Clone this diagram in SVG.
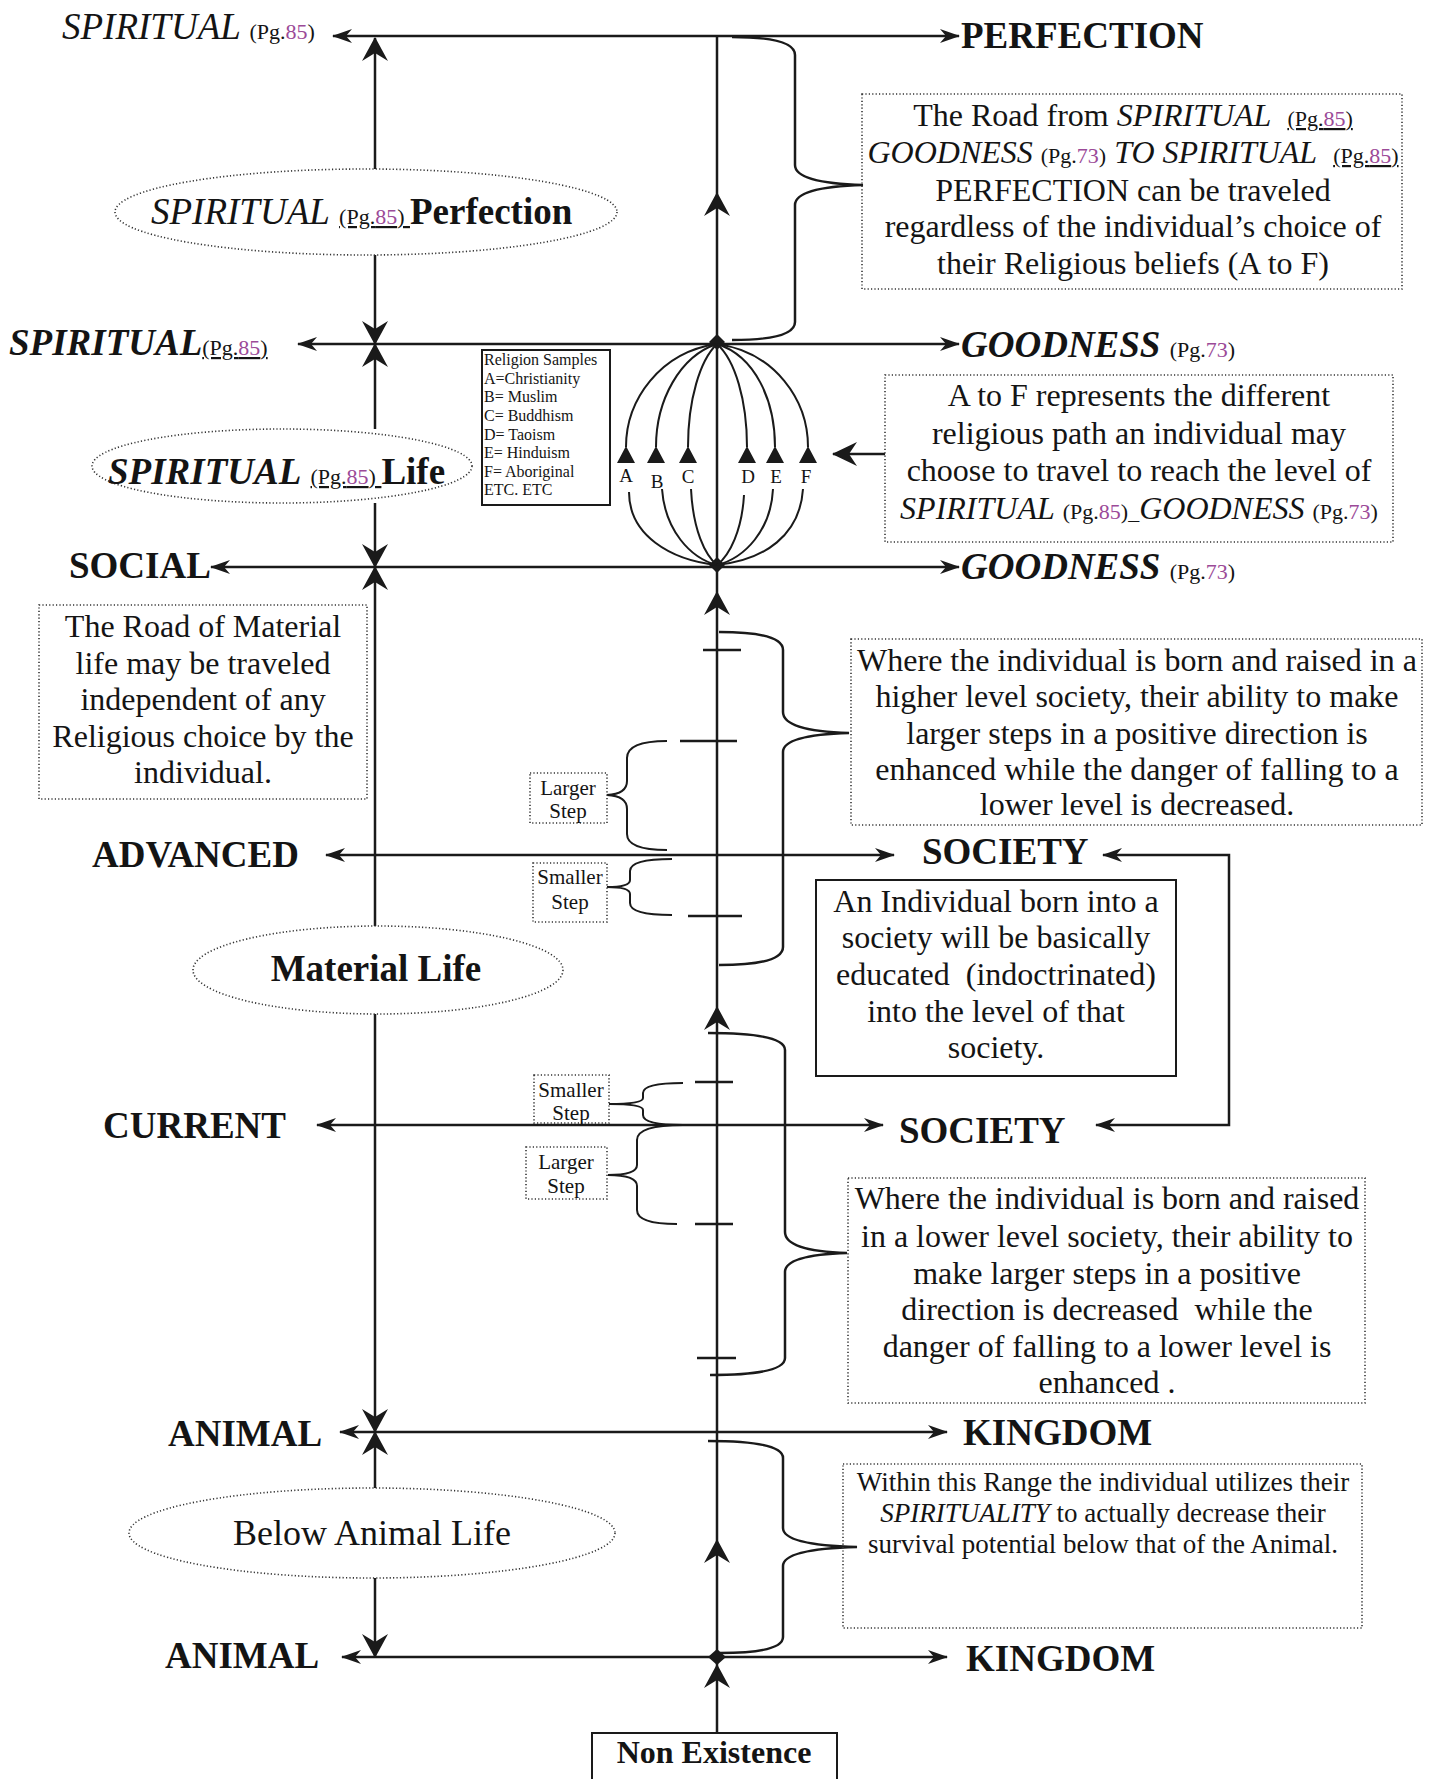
<svg xmlns="http://www.w3.org/2000/svg" width="1439" height="1779" viewBox="0 0 1439 1779">
<style>
.t{font-family:"Liberation Serif","Times New Roman",serif;fill:#141414}
.b{font-weight:bold}
.i{font-style:italic}
.lab{font-size:37px;font-weight:bold}
.box{font-size:32px;text-anchor:middle}
.sm{font-size:27px;text-anchor:middle}
.step{font-size:21px;text-anchor:middle}
.rel{font-size:16px}
.pg{font-size:22px;font-style:normal;font-weight:normal}
.pu{fill:#9b4a98}
.u{text-decoration:underline}
.ln{stroke:#1a1a1a;stroke-width:2.5;fill:none}
.cv{stroke:#1a1a1a;stroke-width:2;fill:none}
.dot{fill:none;stroke:#333;stroke-width:1.6;stroke-dasharray:1.2 2.2}
.solid{fill:none;stroke:#1a1a1a;stroke-width:2}
.fillk{fill:#1a1a1a}
</style>
<defs>
<marker id="ah" viewBox="0 0 20 14" refX="19" refY="7" markerWidth="20" markerHeight="14" markerUnits="userSpaceOnUse" orient="auto-start-reverse"><path d="M0,0 L20,7 L0,14 L6,7 Z" fill="#1a1a1a"/></marker>
<marker id="av" viewBox="0 0 24 26" refX="23" refY="13" markerWidth="24" markerHeight="26" markerUnits="userSpaceOnUse" orient="auto-start-reverse"><path d="M0,0 L24,13 L0,26 L8,13 Z" fill="#1a1a1a"/></marker>
<marker id="ab" viewBox="0 0 25 24" refX="24" refY="12" markerWidth="25" markerHeight="24" markerUnits="userSpaceOnUse" orient="auto-start-reverse"><path d="M0,0 L25,12 L0,24 L8,12 Z" fill="#1a1a1a"/></marker>
</defs>
<rect x="0" y="0" width="1439" height="1779" fill="#ffffff"/>

<g id="connectors">
  <!-- horizontal level lines -->
  <path class="ln" d="M333,36 L959,36" marker-start="url(#ah)" marker-end="url(#ah)"/>
  <path class="ln" d="M298,344 L959,344" marker-start="url(#ah)" marker-end="url(#ah)"/>
  <path class="ln" d="M211,567 L959,567" marker-start="url(#ah)" marker-end="url(#ah)"/>
  <path class="ln" d="M326,855 L894,855" marker-start="url(#ah)" marker-end="url(#ah)"/>
  <path class="ln" d="M317,1125 L883,1125" marker-start="url(#ah)" marker-end="url(#ah)"/>
  <path class="ln" d="M340,1432 L947,1432" marker-start="url(#ah)" marker-end="url(#ah)"/>
  <path class="ln" d="M342,1657 L947,1657" marker-start="url(#ah)" marker-end="url(#ah)"/>
  <!-- society bracket connector -->
  <path class="ln" d="M1103,855 L1229,855 L1229,1125 L1096,1125" marker-start="url(#ah)" marker-end="url(#ah)"/>
  <!-- left vertical line -->
  <path class="ln" d="M375,169 L375,38" marker-end="url(#av)"/>
  <path class="ln" d="M375,255 L375,344" marker-end="url(#av)"/>
  <path class="ln" d="M375,429 L375,344" marker-end="url(#av)"/>
  <path class="ln" d="M375,503 L375,567" marker-end="url(#av)"/>
  <path class="ln" d="M375,926 L375,567" marker-end="url(#av)"/>
  <path class="ln" d="M375,1014 L375,1432" marker-end="url(#av)"/>
  <path class="ln" d="M375,1488 L375,1432" marker-end="url(#av)"/>
  <path class="ln" d="M375,1578 L375,1657" marker-end="url(#av)"/>
  <!-- central line -->
  <path class="ln" d="M717,1733 L717,1665" marker-end="url(#av)"/>
  <path class="ln" d="M717,1665 L717,1540" marker-end="url(#av)"/>
  <path class="ln" d="M717,1540 L717,1007" marker-end="url(#av)"/>
  <path class="ln" d="M717,1007 L717,592" marker-end="url(#av)"/>
  <path class="ln" d="M717,592 L717,193" marker-end="url(#av)"/>
  <path class="ln" d="M717,193 L717,36"/>
  <!-- junction dots -->
  <path class="fillk" d="M717,334 L725,342 L717,350 L709,342 Z"/>
  <path class="fillk" d="M717,557 L725,565 L717,573 L709,565 Z"/>
  <path class="fillk" d="M717,1649 L726,1657 L717,1665 L708,1657 Z"/>
  <!-- large braces -->
  <path class="ln" d="M732,37 Q795,37 795,55 L795,165 Q795,183 863,185 Q795,187 795,205 L795,322 Q795,340 732,340"/>
  <path class="ln" d="M719,632 Q783,632 783,650 L783,712 Q783,731 849,733 Q783,735 783,752 L783,947 Q783,965 719,965"/>
  <path class="ln" d="M708,1033 Q785,1033 785,1050 L785,1232 Q785,1251 847,1253 Q785,1255 785,1272 L785,1358 Q785,1375 710,1375"/>
  <path class="ln" d="M708,1441 Q783,1441 783,1458 L783,1528 Q783,1545 857,1547 Q783,1549 783,1566 L783,1637 Q783,1653 720,1653"/>
  <!-- small step braces -->
  <path class="cv" d="M667,741 Q627,741 627,758 L627,781 Q627,794 607,795 Q627,796 627,809 L627,834 Q627,850 667,850"/>
  <path class="cv" d="M672,859 Q630,859 630,871 L630,880 Q630,887 607,887 Q630,887 630,894 L630,903 Q630,915 672,915"/>
  <path class="cv" d="M683,1083 Q643,1083 643,1093 L643,1098 Q643,1104 609,1104 Q643,1104 643,1110 L643,1115 Q643,1125 683,1125"/>
  <path class="cv" d="M683,1125 Q637,1125 637,1140 L637,1165 Q637,1175 608,1175 Q637,1175 637,1186 L637,1210 Q637,1224 677,1224"/>
  <!-- step ticks -->
  <path class="ln" d="M703,650 L741,650 M680,741 L737,741 M688,916 L742,916 M695,1082 L733,1082 M695,1224 L733,1224 M697,1358 L736,1358"/>
  <!-- religious paths A-F -->
  <path class="cv" d="M717,344 C660,352 626,400 626,447"/>
  <path class="cv" d="M717,344 C680,356 656,400 656,447"/>
  <path class="cv" d="M717,344 C700,360 688,400 688,447"/>
  <path class="cv" d="M717,344 C735,360 747,400 747,447"/>
  <path class="cv" d="M717,344 C755,356 775,400 775,447"/>
  <path class="cv" d="M717,344 C775,352 808,400 808,447"/>
  <path class="cv" d="M629,492 C629,535 670,560 717,565"/>
  <path class="cv" d="M662,489 C665,530 690,558 717,565"/>
  <path class="cv" d="M691,489 C693,530 705,555 717,565"/>
  <path class="cv" d="M744,495 C742,530 730,555 717,565"/>
  <path class="cv" d="M773,489 C771,530 745,558 717,565"/>
  <path class="cv" d="M803,489 C800,535 765,560 717,565"/>
  <path class="fillk" d="M626,446 L635,463 L617,463 Z M656,446 L665,463 L647,463 Z M688,446 L697,463 L679,463 Z M747,446 L756,463 L738,463 Z M775,446 L784,463 L766,463 Z M808,446 L817,463 L799,463 Z"/>
  <path class="ln" d="M885,454 L833,454" marker-end="url(#ab)"/>
</g>

<g id="lbl-spiritual-top"><text class="t i" x="62" y="39" font-size="37">SPIRITUAL <tspan class="pg">(Pg.<tspan class="pu">85</tspan>)</tspan></text></g>
<g id="lbl-perfection"><text class="t lab" x="961" y="48">PERFECTION</text></g>
<g id="lbl-spiritual-mid"><text class="t lab i" x="9" y="355">SPIRITUAL<tspan class="pg u">(Pg.<tspan class="pu">85</tspan>)</tspan></text></g>
<g id="lbl-goodness-1"><text class="t lab i" x="961" y="357">GOODNESS <tspan class="pg" font-size="21">(Pg.<tspan class="pu">73</tspan>)</tspan></text></g>
<g id="lbl-social"><text class="t lab" x="69" y="578">SOCIAL</text></g>
<g id="lbl-goodness-2"><text class="t lab i" x="961" y="579">GOODNESS <tspan class="pg" font-size="21">(Pg.<tspan class="pu">73</tspan>)</tspan></text></g>
<g id="lbl-advanced"><text class="t lab" x="92" y="867">ADVANCED</text></g>
<g id="lbl-society-1"><text class="t lab" x="922" y="864">SOCIETY</text></g>
<g id="lbl-current"><text class="t lab" x="103" y="1138">CURRENT</text></g>
<g id="lbl-society-2"><text class="t lab" x="899" y="1143">SOCIETY</text></g>
<g id="lbl-animal-1"><text class="t lab" x="168" y="1446">ANIMAL</text></g>
<g id="lbl-kingdom-1"><text class="t lab" x="963" y="1445">KINGDOM</text></g>
<g id="lbl-animal-2"><text class="t lab" x="165" y="1668">ANIMAL</text></g>
<g id="lbl-kingdom-2"><text class="t lab" x="966" y="1671">KINGDOM</text></g>

<g id="ell-perfection">
  <ellipse class="dot" cx="366" cy="212" rx="251" ry="43"/>
  <text class="t" x="151" y="224" font-size="37"><tspan class="i">SPIRITUAL</tspan> <tspan class="pg u" font-size="24">(Pg.<tspan class="pu">85</tspan>) </tspan><tspan class="b">Perfection</tspan></text>
</g>
<g id="ell-spiritual-life">
  <ellipse class="dot" cx="282" cy="466" rx="190" ry="37"/>
  <text class="t" x="108" y="484" font-size="37"><tspan class="b i">SPIRITUAL</tspan> <tspan class="pg u">(Pg.<tspan class="pu">85</tspan>) </tspan><tspan class="b">Life</tspan></text>
</g>
<g id="ell-material-life">
  <ellipse class="dot" cx="378" cy="970" rx="185" ry="44"/>
  <text class="t b" x="376" y="981" font-size="37" text-anchor="middle">Material Life</text>
</g>
<g id="ell-below-animal">
  <ellipse class="dot" cx="372" cy="1533" rx="243" ry="45"/>
  <text class="t" x="372" y="1545" font-size="36" text-anchor="middle">Below Animal Life</text>
</g>

<g id="box-road-spiritual">
  <rect class="dot" x="862" y="94" width="540" height="195"/>
  <text class="t box" x="1133" y="126" xml:space="preserve">The Road from <tspan class="i">SPIRITUAL</tspan>  <tspan class="pg u">(Pg.<tspan class="pu">85</tspan>)</tspan></text>
  <text class="t box" x="1133" y="163" xml:space="preserve"><tspan class="i">GOODNESS</tspan> <tspan class="pg">(Pg.<tspan class="pu">73</tspan>)</tspan> <tspan class="i">TO SPIRITUAL</tspan>  <tspan class="pg u">(Pg.<tspan class="pu">85</tspan>)</tspan></text>
  <text class="t box" x="1133" y="201">PERFECTION can be traveled</text>
  <text class="t box" x="1133" y="237">regardless of the individual’s choice of</text>
  <text class="t box" x="1133" y="274">their Religious beliefs (A to F)</text>
</g>

<g id="box-religion-samples">
  <rect class="solid" x="482" y="350" width="128" height="155"/>
  <text class="t rel" x="484" y="365">Religion Samples</text>
  <text class="t rel" x="484" y="383.5">A=Christianity</text>
  <text class="t rel" x="484" y="402">B= Muslim</text>
  <text class="t rel" x="484" y="421">C= Buddhism</text>
  <text class="t rel" x="484" y="439.5">D= Taoism</text>
  <text class="t rel" x="484" y="458">E= Hinduism</text>
  <text class="t rel" x="484" y="476.5">F= Aboriginal</text>
  <text class="t rel" x="484" y="495">ETC. ETC</text>
</g>

<g id="path-letters" font-size="19" text-anchor="middle">
  <text class="t" x="626" y="482">A</text>
  <text class="t" x="657" y="488">B</text>
  <text class="t" x="688" y="483">C</text>
  <text class="t" x="748" y="483">D</text>
  <text class="t" x="776" y="483">E</text>
  <text class="t" x="806" y="483">F</text>
</g>

<g id="box-a-to-f">
  <rect class="dot" x="885" y="375" width="508" height="167"/>
  <text class="t box" x="1139" y="406">A to F represents the different</text>
  <text class="t box" x="1139" y="444">religious path an individual may</text>
  <text class="t box" x="1139" y="481">choose to travel to reach the level of</text>
  <text class="t box" x="1139" y="519"><tspan class="i">SPIRITUAL</tspan> <tspan class="pg">(Pg.<tspan class="pu">85</tspan>)</tspan><tspan class="pg">_</tspan><tspan class="i">GOODNESS</tspan> <tspan class="pg">(Pg.<tspan class="pu">73</tspan>)</tspan></text>
</g>

<g id="box-road-material">
  <rect class="dot" x="39" y="605" width="328" height="194"/>
  <text class="t box" x="203" y="637">The Road of Material</text>
  <text class="t box" x="203" y="674">life may be traveled</text>
  <text class="t box" x="203" y="710">independent of any</text>
  <text class="t box" x="203" y="747">Religious choice by the</text>
  <text class="t box" x="203" y="783">individual.</text>
</g>

<g id="box-higher-society">
  <rect class="dot" x="851" y="639" width="571" height="186"/>
  <text class="t box" x="1137" y="671">Where the individual is born and raised in a</text>
  <text class="t box" x="1137" y="707">higher level society, their ability to make</text>
  <text class="t box" x="1137" y="744">larger steps in a positive direction is</text>
  <text class="t box" x="1137" y="780">enhanced while the danger of falling to a</text>
  <text class="t box" x="1137" y="815">lower level is decreased.</text>
</g>

<g id="box-individual-born">
  <rect class="solid" x="816" y="880" width="360" height="196"/>
  <text class="t box" x="996" y="912">An Individual born into a</text>
  <text class="t box" x="996" y="948">society will be basically</text>
  <text class="t box" x="996" y="985" xml:space="preserve">educated  (indoctrinated)</text>
  <text class="t box" x="996" y="1022">into the level of that</text>
  <text class="t box" x="996" y="1058">society.</text>
</g>

<g id="box-lower-society">
  <rect class="dot" x="848" y="1178" width="517" height="225"/>
  <text class="t box" x="1107" y="1209">Where the individual is born and raised</text>
  <text class="t box" x="1107" y="1247">in a lower level society, their ability to</text>
  <text class="t box" x="1107" y="1284">make larger steps in a positive</text>
  <text class="t box" x="1107" y="1320" xml:space="preserve">direction is decreased  while the</text>
  <text class="t box" x="1107" y="1357">danger of falling to a lower level is</text>
  <text class="t box" x="1107" y="1393">enhanced .</text>
</g>

<g id="box-within-range">
  <rect class="dot" x="843" y="1464" width="519" height="164"/>
  <text class="t sm" x="1103" y="1491">Within this Range the individual utilizes their</text>
  <text class="t sm" x="1103" y="1522"><tspan class="i">SPIRITUALITY</tspan> to actually decrease their</text>
  <text class="t sm" x="1103" y="1553">survival potential below that of the Animal.</text>
</g>

<g id="step-larger-1">
  <rect class="dot" x="530" y="773" width="77" height="50"/>
  <text class="t step" x="568" y="795">Larger</text>
  <text class="t step" x="568" y="818">Step</text>
</g>
<g id="step-smaller-1">
  <rect class="dot" x="533" y="863" width="74" height="59"/>
  <text class="t step" x="570" y="884">Smaller</text>
  <text class="t step" x="570" y="909">Step</text>
</g>
<g id="step-smaller-2">
  <rect class="dot" x="534" y="1075" width="75" height="48"/>
  <text class="t step" x="571" y="1097">Smaller</text>
  <text class="t step" x="571" y="1120">Step</text>
</g>
<g id="step-larger-2">
  <rect class="dot" x="526" y="1147" width="81" height="52"/>
  <text class="t step" x="566" y="1169">Larger</text>
  <text class="t step" x="566" y="1193">Step</text>
</g>

<g id="box-non-existence">
  <rect class="solid" x="592" y="1733" width="245" height="70"/>
  <text class="t b" x="714" y="1763" font-size="32" text-anchor="middle">Non Existence</text>
</g>
</svg>
